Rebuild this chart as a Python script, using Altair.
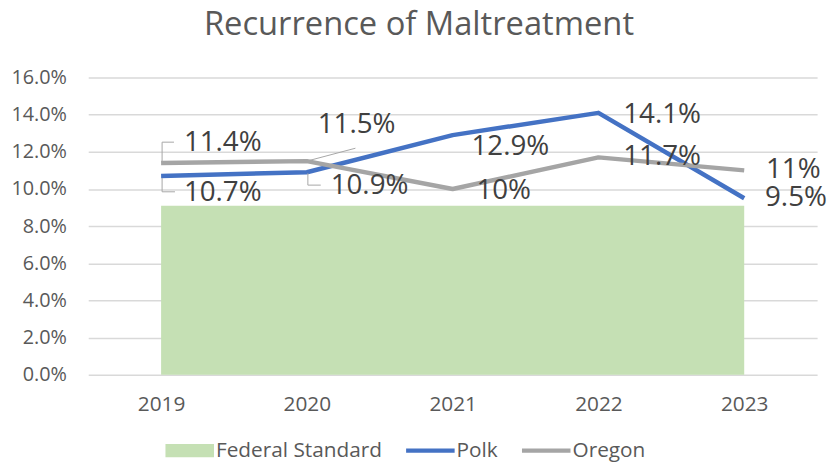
import altair as alt
import pandas as pd

# ---- data ----
years = ["2019", "2020", "2021", "2022", "2023"]
polk = [0.107, 0.109, 0.129, 0.141, 0.095]
oregon = [0.114, 0.115, 0.100, 0.117, 0.110]
federal = [0.091, 0.091, 0.091, 0.091, 0.091]
polk_labels = ["10.7%", "10.9%", "12.9%", "14.1%", "9.5%"]
oregon_labels = ["11.4%", "11.5%", "10%", "11.7%", "11%"]
series_names = ["Federal Standard", "Polk", "Oregon"]
y_ticks = [0.0, 0.02, 0.04, 0.06, 0.08, 0.10, 0.12, 0.14, 0.16]

# ---- styling ----
FONT = "Open Sans"
TXT = "#595959"
GREEN = "#C5E0B4"
BLUE = "#4472C4"
GRAY = "#A5A5A5"
polk_label_offsets = [(23, 17), (24, 14), (19, 12), (25, 2), (21, 0)]
oregon_label_offsets = [(23, -20), (11, -36), (24, 2), (25, 0), (22, 0)]
# leader segments: (series, year index, x0, y0, x1, y1) offsets from point
leaders = [
    ("Oregon", 0, 1, 0, 1, -21), ("Oregon", 0, 1, -21, 13, -21),
    ("Polk", 0, 1, 2, 1, 16), ("Polk", 0, 1, 16, 14, 16),
    ("Oregon", 1, 0, 0, 49, -13),
    ("Polk", 1, 1, 1, 1, 13), ("Polk", 1, 1, 13, 14, 13),
]

df_fed = pd.DataFrame({"year": years, "value": federal})
df_polk = pd.DataFrame({"year": years, "value": polk, "label": polk_labels})
df_or = pd.DataFrame({"year": years, "value": oregon, "label": oregon_labels})
df_leg = pd.DataFrame({"series": series_names, "year": [years[0]] * 3, "value": [0.0] * 3})

x_enc = alt.X("year:O", sort=years, title=None,
              scale=alt.Scale(type="point", padding=0.5),
              axis=alt.Axis(labelAngle=0, domain=False, ticks=False, labelFont=FONT,
                            labelFontSize=21, labelColor=TXT, labelPadding=19, grid=False))
y_enc = alt.Y("value:Q", title=None, scale=alt.Scale(domain=[0, 0.16], nice=False),
              axis=alt.Axis(values=y_ticks, format=".1%", domain=False, ticks=False,
                            labelFont=FONT, labelFontSize=20, labelColor=TXT,
                            labelOverlap=False, labelPadding=22, tickCount=9,
                            gridColor="#D9D9D9", gridWidth=1.5))

area = alt.Chart(df_fed).mark_area(color=GREEN, opacity=1).encode(x=x_enc, y=y_enc)

polk_line = alt.Chart(df_polk).mark_line(color=BLUE, strokeWidth=4.5, strokeJoin="round").encode(
    x=x_enc, y=y_enc)
or_line = alt.Chart(df_or).mark_line(color=GRAY, strokeWidth=4.5, strokeJoin="round").encode(
    x=x_enc, y=y_enc)

layers = [area, polk_line, or_line]

src = {"Polk": df_polk, "Oregon": df_or}
for s, i, x0, y0, x1, y1 in leaders:
    layers.append(
        alt.Chart(src[s]).transform_filter(alt.datum.year == years[i])
        .mark_rule(color="#A6A6A6", strokeWidth=1, xOffset=x0, yOffset=y0,
                   x2Offset=x1, y2Offset=y1)
        .encode(x=x_enc, y=y_enc, x2=alt.X2("year"), y2=alt.Y2("value"))
    )

for df, offs in [(df_polk, polk_label_offsets), (df_or, oregon_label_offsets)]:
    for i, (dx, dy) in enumerate(offs):
        layers.append(
            alt.Chart(df).transform_filter(alt.datum.year == years[i])
            .mark_text(align="left", baseline="middle", dx=dx, dy=dy, font=FONT,
                       fontSize=28, color="#404040")
            .encode(x=x_enc, y=y_enc, text="label:N")
        )

rect_path = "M-1,-0.27L1,-0.27L1,0.27L-1,0.27Z"
line_path = "M-1,-0.085L1,-0.085L1,0.085L-1,0.085Z"
leg = alt.Legend(orient="none", legendX=78, legendY=352, direction="horizontal", title=None,
                 labelFont=FONT, labelFontSize=21, labelColor=TXT, symbolSize=2401,
                 labelLimit=400, columnPadding=24, labelOffset=2,
                 symbolStrokeWidth=0, symbolOpacity=1)
legend_layer = alt.Chart(df_leg).mark_point(filled=True, opacity=0).encode(
    x=x_enc, y=y_enc,
    color=alt.Color("series:N", sort=series_names,
                    scale=alt.Scale(domain=series_names, range=[GREEN, BLUE, GRAY]), legend=leg),
    shape=alt.Shape("series:N", sort=series_names,
                    scale=alt.Scale(domain=series_names, range=[rect_path, line_path, line_path]),
                    legend=leg),
)
layers.append(legend_layer)

chart = alt.layer(*layers).properties(
    width=736, height=300,
    title=alt.Title("Recurrence of Maltreatment", font=FONT, fontSize=33, fontWeight="normal",
                    color=TXT, anchor="middle", dx=-34, offset=26),
    autosize=alt.AutoSizeParams(type="none"),
    padding={"left": 81, "top": 68, "right": 10, "bottom": 88},
).configure_view(stroke=None)

chart.save("out.html", embed_options={"renderer": "svg", "actions": False})
